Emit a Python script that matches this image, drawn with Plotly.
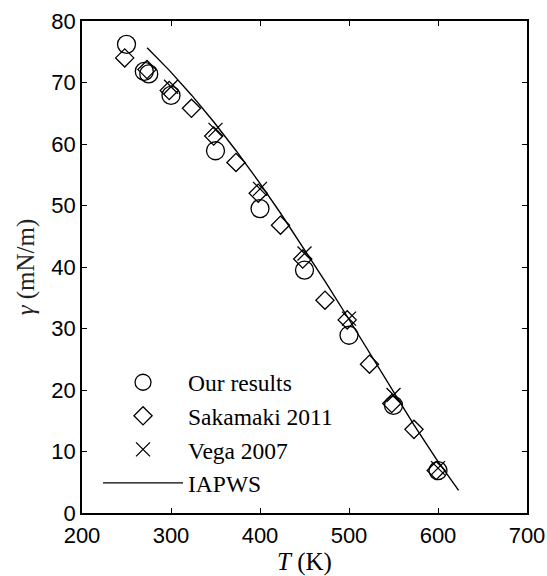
import plotly.graph_objects as go

# Our results
our_T = [250, 270, 275, 300, 350, 400, 450, 500, 550, 600]
our_g = [76.2, 71.8, 71.4, 67.9, 58.9, 49.5, 39.5, 28.9, 17.5, 6.9]

# Sakamaki 2011
sak_T = [248, 273, 298, 323, 348, 373, 398, 423, 448, 473, 498, 523, 548, 573, 598]
sak_g = [74.0, 72.1, 68.7, 65.8, 61.3, 57.0, 52.0, 46.8, 41.3, 34.6, 31.4, 24.2, 17.8, 13.6, 6.9]

# Vega 2007
vega_T = [300, 350, 400, 450, 500, 550, 600]
vega_g = [69.3, 62.3, 52.7, 42.2, 31.6, 19.2, 7.3]

# IAPWS
iapws_T = [273.15, 298.15, 323.15, 348.15, 373.15, 398.15, 423.15, 448.15,
           473.15, 498.15, 523.15, 548.15, 573.15, 598.15, 623.15]
iapws_g = [75.65, 71.97, 67.94, 63.58, 58.91, 53.96, 48.74, 43.30,
           37.66, 31.91, 26.02, 20.16, 14.30, 8.77, 3.67]

x_ticks = [200, 300, 400, 500, 600, 700]
y_ticks = [0, 10, 20, 30, 40, 50, 60, 70, 80]

fig = go.Figure()
fig.add_trace(go.Scatter(x=our_T, y=our_g, mode="markers", name="Our results",
                         legendgroup="a",
                         marker=dict(symbol="circle-open", size=18, color="black",
                                     line=dict(width=1.3, color="black"))))
fig.add_trace(go.Scatter(x=sak_T, y=sak_g, mode="markers", name="Sakamaki 2011",
                         legendgroup="b",
                         marker=dict(symbol="diamond-open", size=14, color="black",
                                     line=dict(width=1.3, color="black"))))
fig.add_trace(go.Scatter(x=vega_T, y=vega_g, mode="markers", name="Vega 2007",
                         legendgroup="c",
                         marker=dict(symbol="x-thin-open", size=14, color="black",
                                     line=dict(width=1.3, color="black"))))
fig.add_trace(go.Scatter(x=iapws_T, y=iapws_g, mode="lines", name="IAPWS",
                         legendgroup="d",
                         line=dict(color="black", width=1.4)))

axis_common = dict(showline=True, linecolor="black", linewidth=1.5, mirror="ticks",
                   ticks="inside", ticklen=5, tickwidth=1, tickcolor="black",
                   showgrid=False, zeroline=False, automargin=False,
                   tickfont=dict(family="Liberation Sans", size=22, color="black"))

fig.update_layout(
    width=547, height=576,
    margin=dict(l=82, r=20, t=21, b=63),
    paper_bgcolor="white", plot_bgcolor="white",
    xaxis=dict(range=[200, 700], tickvals=x_ticks, ticklabelstandoff=2,
               title=dict(text="<i>T</i> (K)", standoff=7,
                          font=dict(family="Liberation Serif", size=25, color="black")),
               **axis_common),
    yaxis=dict(range=[0, 80], tickvals=y_ticks,
               title=dict(text="<i>γ</i> (mN/m)", standoff=10,
                          font=dict(family="Liberation Serif", size=25, color="#222")),
               **axis_common),
    legend=dict(x=0.036, y=0.31, xanchor="left", yanchor="top",
                bgcolor="rgba(0,0,0,0)", tracegroupgap=0, itemwidth=80,
                font=dict(family="Liberation Serif", size=23.5, color="black")),
    showlegend=True,
)

fig.write_html("out.html")
